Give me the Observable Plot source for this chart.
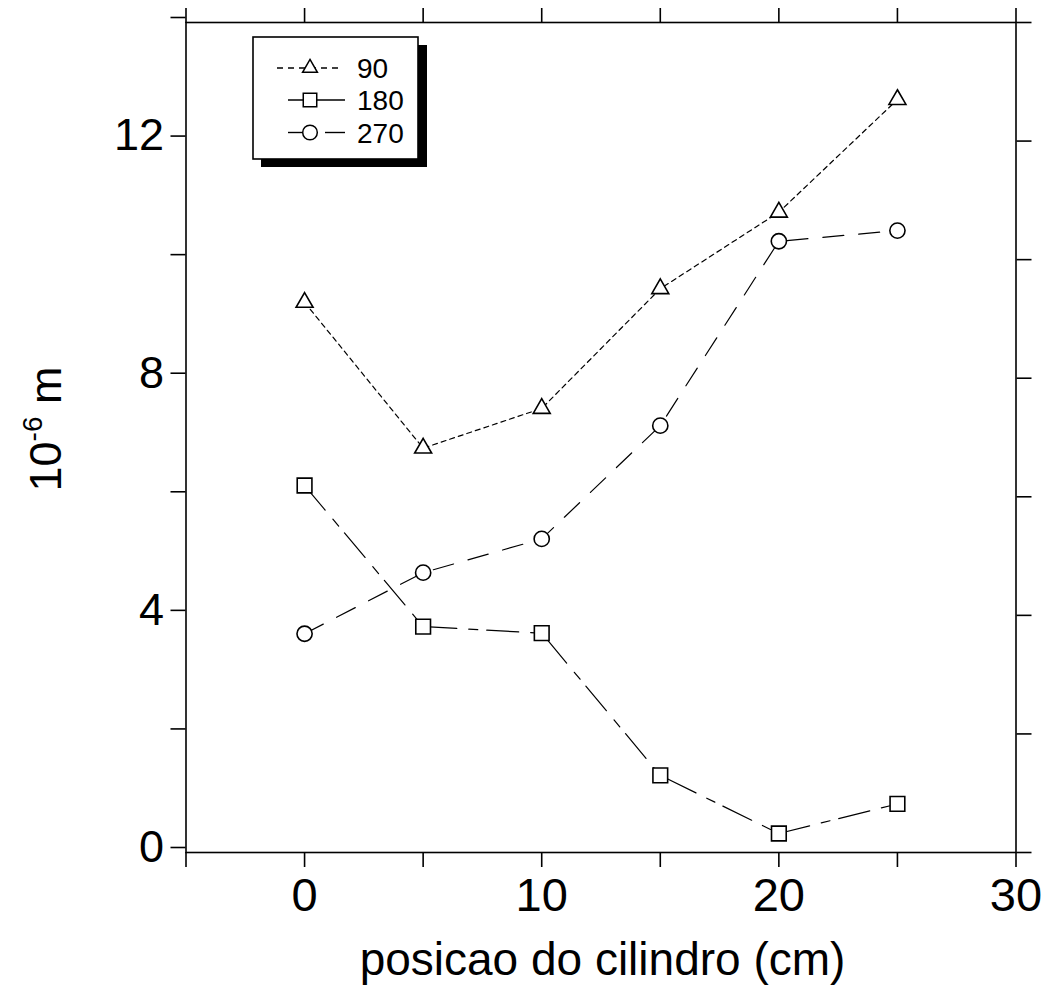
<!DOCTYPE html>
<html>
<head>
<meta charset="utf-8">
<script src="https://cdn.jsdelivr.net/npm/d3@7"></script>
<script src="https://cdn.jsdelivr.net/npm/@observablehq/plot@0.6"></script>
<style>
  html, body { margin: 0; padding: 0; background: #ffffff; }
  svg { display: block; }
</style>
</head>
<body>
<div id="chart"></div>
<script>
// ---- data ----
const positions = [0, 5, 10, 15, 20, 25];           // posicao do cilindro (cm)
const s90  = [9.28, 6.82, 7.49, 9.51, 10.80, 12.70];
const s180 = [6.19, 3.81, 3.70, 1.30, 0.32, 0.82];
const s270 = [3.69, 4.72, 5.29, 7.20, 10.31, 10.49];
const seriesNames = ["90", "180", "270"];
const xTicks = [-5, 0, 5, 10, 15, 20, 25, 30];
const xTickLabels = [0, 10, 20, 30];
const yTicks = [0, 2, 4, 6, 8, 10, 12, 14];
const yTickLabels = [0, 4, 8, 12];
const xTitle = "posicao do cilindro (cm)";

const toRows = (vals) => positions.map((p, i) => ({x: p, y: vals[i]}));
const d90 = toRows(s90), d180 = toRows(s180), d270 = toRows(s270);

const W = 1044, H = 986;
const mL = 185.5, mR = 28.5, mT = 22, mB = 134;
const FONT = "'Liberation Sans', Arial, Helvetica, sans-serif";

const chart = Plot.plot({
  width: W, height: H,
  marginLeft: mL, marginRight: mR, marginTop: mT, marginBottom: mB,
  style: {fontFamily: FONT, fontSize: "45px", color: "#000", background: "#ffffff"},
  x: {domain: [-5, 30]},
  y: {domain: [0, 14]},
  marks: [
    Plot.frame({stroke: "#000", strokeWidth: 1.6}),
    Plot.axisX({anchor: "bottom", ticks: xTicks, tickSize: 15, tickPadding: 10, strokeWidth: 1.6,
      tickFormat: d => xTickLabels.includes(d) ? String(d) : "", fontSize: 47, label: null}),
    Plot.axisX({anchor: "top", ticks: xTicks, tickSize: 15, strokeWidth: 1.6,
      tickFormat: () => "", label: null}),
    Plot.axisY({anchor: "left", ticks: yTicks, tickSize: 15, tickPadding: 7, strokeWidth: 1.6,
      tickFormat: d => yTickLabels.includes(d) ? String(d) : "", fontSize: 45, dy: -5, label: null}),
    Plot.axisY({anchor: "right", ticks: yTicks, tickSize: 15, strokeWidth: 1.6,
      tickFormat: () => "", label: null}),
    Plot.line(d90,  {x: "x", y: "y", stroke: "#000", strokeWidth: 1.2, strokeDasharray: "5,4"}),
    Plot.line(d180, {x: "x", y: "y", stroke: "#000", strokeWidth: 1.2, strokeDasharray: "32,12,9,9"}),
    Plot.line(d270, {x: "x", y: "y", stroke: "#000", strokeWidth: 1.2, strokeDasharray: "21,15"}),
    Plot.dot(d90,  {x: "x", y: "y", symbol: "triangle", r: 6.3, fill: "#fff", stroke: "#000", strokeWidth: 1.6}),
    Plot.dot(d180, {x: "x", y: "y", symbol: "square", r: 8.3, fill: "#fff", stroke: "#000", strokeWidth: 1.6}),
    Plot.dot(d270, {x: "x", y: "y", symbol: "circle", r: 7.6, fill: "#fff", stroke: "#000", strokeWidth: 1.6})
  ]
});

document.getElementById("chart").appendChild(chart);
const svg = d3.select(chart);

// x axis title
svg.append("text")
  .attr("x", (mL + (W - mR)) / 2 + 2)
  .attr("y", 975)
  .attr("text-anchor", "middle")
  .attr("font-family", FONT)
  .attr("font-size", 46)
  .attr("fill", "#000")
  .text(xTitle);

// y axis title with superscript
const yt = svg.append("text")
  .attr("transform", "translate(61,429) rotate(-90)")
  .attr("text-anchor", "middle")
  .attr("font-family", FONT)
  .attr("font-size", 45)
  .attr("fill", "#000");
yt.append("tspan").text("10");
yt.append("tspan").attr("font-size", 28).attr("dy", -19).text("-6");
yt.append("tspan").attr("dy", 19).text("\u00a0m");

// legend (pixel layout)
const lg = svg.append("g");
lg.append("rect").attr("x", 261).attr("y", 45).attr("width", 166).attr("height", 122).attr("fill", "#000");
lg.append("rect").attr("x", 253).attr("y", 37).attr("width", 165).attr("height", 122)
  .attr("fill", "#fff").attr("stroke", "#000").attr("stroke-width", 1.6);

const legendRows = [
  {name: seriesNames[0], y: 68, sym: d3.symbolTriangle, size: Math.PI * 5.5 * 5.5,
   segs: [[277, 343]], dash: "6,5"},
  {name: seriesNames[1], y: 100, sym: d3.symbolSquare, size: Math.PI * 7.6 * 7.6,
   segs: [[288, 345]], dash: null},
  {name: seriesNames[2], y: 132.5, sym: d3.symbolCircle, size: Math.PI * 7.3 * 7.3,
   segs: [[288, 303], [325, 345]], dash: null}
];
for (const r of legendRows) {
  for (const [a, b] of r.segs) {
    const ln = lg.append("line").attr("x1", a).attr("x2", b).attr("y1", r.y).attr("y2", r.y)
      .attr("stroke", "#000").attr("stroke-width", 1.4);
    if (r.dash) ln.attr("stroke-dasharray", r.dash);
  }
  lg.append("path").attr("d", d3.symbol(r.sym, r.size)())
    .attr("transform", `translate(310,${r.y})`)
    .attr("fill", "#fff").attr("stroke", "#000").attr("stroke-width", 1.5);
  lg.append("text").attr("x", 357).attr("y", r.y + 10)
    .attr("text-anchor", "start")
    .attr("font-family", FONT).attr("font-size", 28).attr("fill", "#000")
    .text(r.name);
}
</script>
</body>
</html>
